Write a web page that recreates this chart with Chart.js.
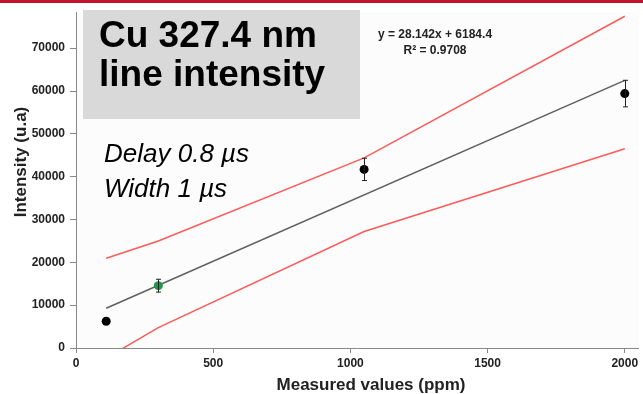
<!DOCTYPE html>
<html>
<head>
<meta charset="utf-8">
<script src="https://cdn.jsdelivr.net/npm/chart.js@4"></script>
<style>
  html, body { margin: 0; padding: 0; background: #fff; }
  #wrap { width: 643px; height: 394px; }
</style>
</head>
<body>
<div id="wrap"><canvas id="myChart" width="643" height="394"></canvas></div>
<script>
var ppm = [110, 300, 1050, 2000];
var intensity = [6250, 14550, 41700, 59400];
var errors = [0, 1500, 2600, 3100];
var pointColors = ["#000000", "#1a9a48", "#000000", "#000000"];

// linear fit y = 28.142x + 6184.4, read at both ends
var fitX = [110, 2000];
var fitY = [9280, 62470];

// confidence band (red lines)
var upperY = [20960, 25000, 44400, 77450];
var lowerY = [-2350, 4750, 27200, 46500];

var xTicks = [0, 500, 1000, 1500, 2000];
var yTicks = [0, 10000, 20000, 30000, 40000, 50000, 60000, 70000];

function pts(xs, ys) {
  return xs.map(function (x, i) { return { x: x, y: ys[i] }; });
}

var FONT = "'Liberation Sans', Arial, sans-serif";

// draws the background, the error bars and the slide texts
var decor = {
  id: "decor",
  beforeDraw: function (chart) {
    var c = chart.ctx, a = chart.chartArea;
    c.save();
    c.fillStyle = "#fcfcfc";
    c.fillRect(a.left, a.top, a.right - a.left, a.bottom - a.top);
    c.restore();
  },
  afterDatasetsDraw: function (chart) {
    var c = chart.ctx;
    var xs = chart.scales.x, ys = chart.scales.y;
    c.save();
    c.strokeStyle = "#222";
    c.lineWidth = 1;
    for (var i = 0; i < ppm.length; i++) {
      if (!errors[i]) continue;
      var px = Math.round(xs.getPixelForValue(ppm[i])) + 0.5;
      var top = ys.getPixelForValue(intensity[i] + errors[i]);
      var bot = ys.getPixelForValue(intensity[i] - errors[i]);
      c.beginPath();
      c.moveTo(px, top); c.lineTo(px, bot);
      c.moveTo(px - 2.5, top); c.lineTo(px + 2.5, top);
      c.moveTo(px - 2.5, bot); c.lineTo(px + 2.5, bot);
      c.stroke();
    }
    c.restore();
  },
  afterDraw: function (chart) {
    var c = chart.ctx;
    c.save();
    // slide top bar
    c.fillStyle = "#c0142c";
    c.fillRect(0, 0, 643, 3);
    // grey title box
    c.fillStyle = "#d9d9d9";
    c.fillRect(83, 10, 277, 109);
    c.fillStyle = "#000";
    c.textAlign = "left";
    c.textBaseline = "alphabetic";
    c.font = "bold 37px " + FONT;
    c.fillText("Cu 327.4 nm", 99, 47);
    c.fillText("line intensity", 99, 86);
    c.font = "italic 26px " + FONT;
    c.fillText("Delay 0.8 \u00b5s", 104, 162);
    c.fillText("Width 1 \u00b5s", 104, 197);
    // fit equation
    c.fillStyle = "#222";
    c.textAlign = "center";
    c.font = "bold 12px " + FONT;
    c.fillText("y = 28.142x + 6184.4", 435, 38);
    c.fillText("R\u00b2 = 0.9708", 435, 54);
    // axis titles
    c.font = "bold 17px " + FONT;
    c.fillText("Measured values (ppm)", 371, 390);
    c.translate(26, 162);
    c.rotate(-Math.PI / 2);
    c.fillText("Intensity (u.a)", 0, 0);
    c.restore();
  }
};

var ctx = document.getElementById("myChart").getContext("2d");
var chart = new Chart(ctx, {
  type: "scatter",
  data: {
    datasets: [
      {
        label: "measured",
        data: pts(ppm, intensity),
        showLine: false,
        pointRadius: 4.5,
        pointBackgroundColor: pointColors,
        pointBorderColor: pointColors,
        pointBorderWidth: 0
      },
      {
        label: "fit",
        data: pts(fitX, fitY),
        showLine: true,
        borderColor: "#5f5f5f",
        borderWidth: 1.5,
        pointRadius: 0
      },
      {
        label: "upper",
        data: pts(ppm, upperY),
        showLine: true,
        borderColor: "#ff5a5a",
        borderWidth: 1.5,
        pointRadius: 0
      },
      {
        label: "lower",
        data: pts(ppm, lowerY),
        showLine: true,
        borderColor: "#ff5a5a",
        borderWidth: 1.5,
        pointRadius: 0
      }
    ]
  },
  options: {
    responsive: false,
    animation: false,
    events: [],
    layout: { padding: { left: 0, top: 6, right: 2, bottom: 0 } },
    plugins: { legend: { display: false }, tooltip: { enabled: false } },
    scales: {
      x: {
        type: "linear",
        min: 0,
        max: 2050,
        afterFit: function (s) { s.height = 46; },
        afterBuildTicks: function (s) {
          s.ticks = xTicks.map(function (v) { return { value: v }; });
        },
        grid: { drawOnChartArea: false, tickLength: 5, color: "#888" },
        border: { color: "#888", width: 1 },
        ticks: {
          padding: 3,
          color: "#222",
          font: { family: FONT, size: 12, weight: "bold" },
          callback: function (v) { return String(v); }
        }
      },
      y: {
        type: "linear",
        min: 0,
        max: 78400,
        afterFit: function (s) { s.width = 76; },
        afterBuildTicks: function (s) {
          s.ticks = yTicks.map(function (v) { return { value: v }; });
        },
        grid: { drawOnChartArea: false, tickLength: 6, color: "#888" },
        border: { color: "#888", width: 1 },
        ticks: {
          padding: 5,
          color: "#222",
          font: { family: FONT, size: 12, weight: "bold" },
          callback: function (v) { return String(v); }
        }
      }
    }
  },
  plugins: [decor]
});
</script>
</body>
</html>
